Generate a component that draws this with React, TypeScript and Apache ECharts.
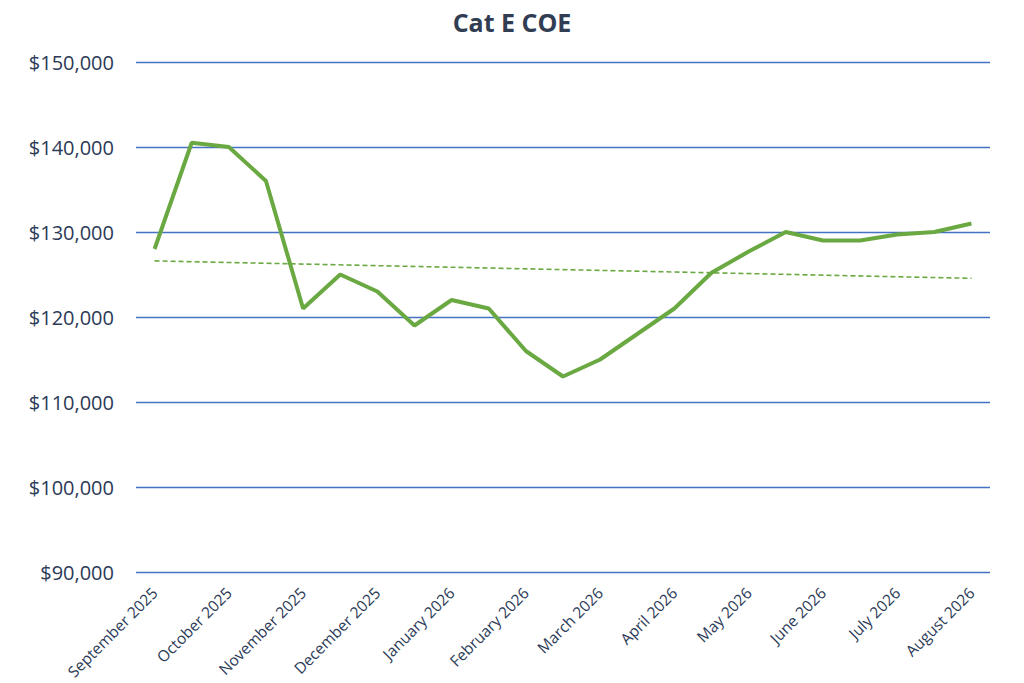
import React, { useEffect, useRef } from "react";
import * as echarts from "echarts";

const monthLabels = [
  "September 2025", "", "October 2025", "", "November 2025", "", "December 2025", "",
  "January 2026", "", "February 2026", "", "March 2026", "", "April 2026", "",
  "May 2026", "", "June 2026", "", "July 2026", "", "August 2026",
];

const coeValues = [
  128000, 140500, 140000, 136000, 121000, 125000, 123000, 119000, 122000, 121000,
  116000, 113000, 115000, 118000, 121000, 125200, 127700, 130000, 129000, 129000,
  129700, 130000, 131000,
];

const trendStart = 126600;
const trendEnd = 124550;

const yTicks = [90000, 100000, 110000, 120000, 130000, 140000, 150000];

export default function App() {
  const ref = useRef<HTMLDivElement>(null);

  useEffect(() => {
    if (!ref.current) return;
    const chart = echarts.init(ref.current, null, { renderer: "svg" });
    const trendData = coeValues.map((_, i) =>
      i === 0 ? trendStart : i === coeValues.length - 1 ? trendEnd : null
    );
    const font = "'Open Sans', 'Noto Sans', sans-serif";
    chart.setOption({
      animation: false,
      backgroundColor: "#ffffff",
      title: {
        text: "Cat E COE",
        left: "center",
        top: 4,
        textStyle: { fontFamily: font, fontSize: 25, fontWeight: "bold", color: "#303D52" },
      },
      grid: { left: 136, right: 34, top: 62, bottom: 111 },
      xAxis: {
        type: "category",
        data: monthLabels,
        boundaryGap: true,
        axisLine: { show: false },
        axisTick: { show: false },
        axisLabel: {
          interval: 0,
          rotate: 45,
          margin: 18,
          fontFamily: font,
          fontSize: 15.5,
          color: "#2B3A57",
        },
      },
      yAxis: {
        type: "value",
        min: yTicks[0],
        max: yTicks[yTicks.length - 1],
        interval: 10000,
        axisLine: { show: false },
        axisTick: { show: false },
        splitLine: { lineStyle: { color: "#4472C4", width: 1.3 } },
        axisLabel: {
          margin: 22,
          fontFamily: font,
          fontSize: 20,
          color: "#2B3A57",
          formatter: (v: number) => "$" + v.toLocaleString("en-US"),
        },
      },
      series: [
        {
          type: "line",
          data: coeValues,
          symbol: "none",
          lineStyle: { color: "#6AA842", width: 4 },
          z: 3,
        },
        {
          type: "line",
          data: trendData,
          connectNulls: true,
          symbol: "none",
          lineStyle: { color: "#6AA842", width: 1.6, type: [5, 3] },
          z: 2,
        },
      ],
    });
    return () => chart.dispose();
  }, []);

  return (
    <div
      ref={ref}
      style={{ position: "absolute", left: 0, top: 0, width: 1024, height: 683 }}
    />
  );
}
